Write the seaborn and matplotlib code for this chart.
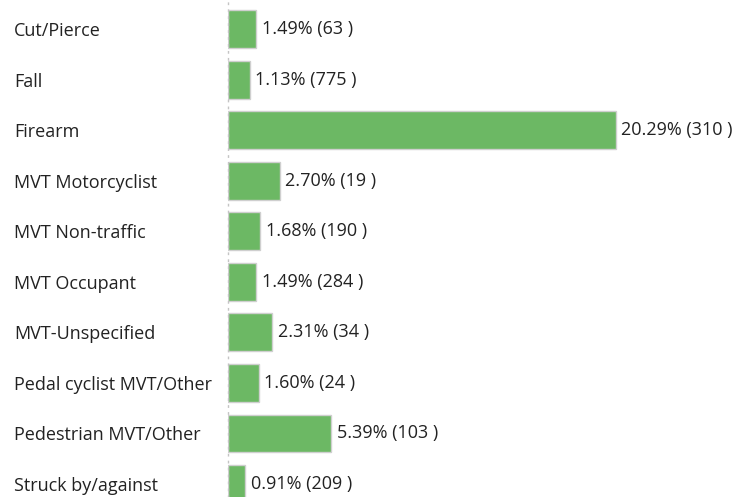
import pandas as pd
import matplotlib.pyplot as plt
import seaborn as sns

categories = ["Cut/Pierce", "Fall", "Firearm", "MVT Motorcyclist", "MVT Non-traffic",
              "MVT Occupant", "MVT-Unspecified", "Pedal cyclist MVT/Other",
              "Pedestrian MVT/Other", "Struck by/against"]
percents = [1.49, 1.13, 20.29, 2.70, 1.68, 1.49, 2.31, 1.60, 5.39, 0.91]
counts = [63, 775, 310, 19, 190, 284, 34, 24, 103, 209]


def plot_mechanisms():
    df = pd.DataFrame({"mechanism": categories, "pct": percents, "n": counts})

    sns.set_style("white")
    plt.rcParams["font.family"] = ["Open Sans", "DejaVu Sans"]

    fig = plt.figure(figsize=(7.38, 4.97), dpi=100)
    ax = fig.add_axes([228 / 738, 0, 497 / 738, 1])

    sns.barplot(data=df, x="pct", y="mechanism", orient="h", color="#6cb864",
                saturation=1, width=0.75, edgecolor="#cfcfcf", linewidth=1, ax=ax)

    labels = [f"{p:.2f}% ({n} )" for p, n in zip(df["pct"], df["n"])]
    ax.bar_label(ax.containers[0], labels=labels, padding=4, fontsize=13, color="#222222")

    ax.set_xlim(0, 26)
    # last row sits at the bottom edge, as in the source screenshot
    ax.set_ylim(9.256, -0.574)
    ax.set_xlabel("")
    ax.set_ylabel("")
    ax.set_xticks([])

    ax.tick_params(axis="y", length=0, pad=154, labelsize=13, labelcolor="#222222")
    for lbl in ax.get_yticklabels():
        lbl.set_horizontalalignment("left")

    for side in ["top", "right", "bottom"]:
        ax.spines[side].set_visible(False)
    ax.spines["left"].set_linestyle((0, (1, 4)))
    ax.spines["left"].set_color("#c4c4c4")
    ax.spines["left"].set_linewidth(1)

    fig.savefig("out.png", dpi=100)


if __name__ == "__main__":
    plot_mechanisms()
